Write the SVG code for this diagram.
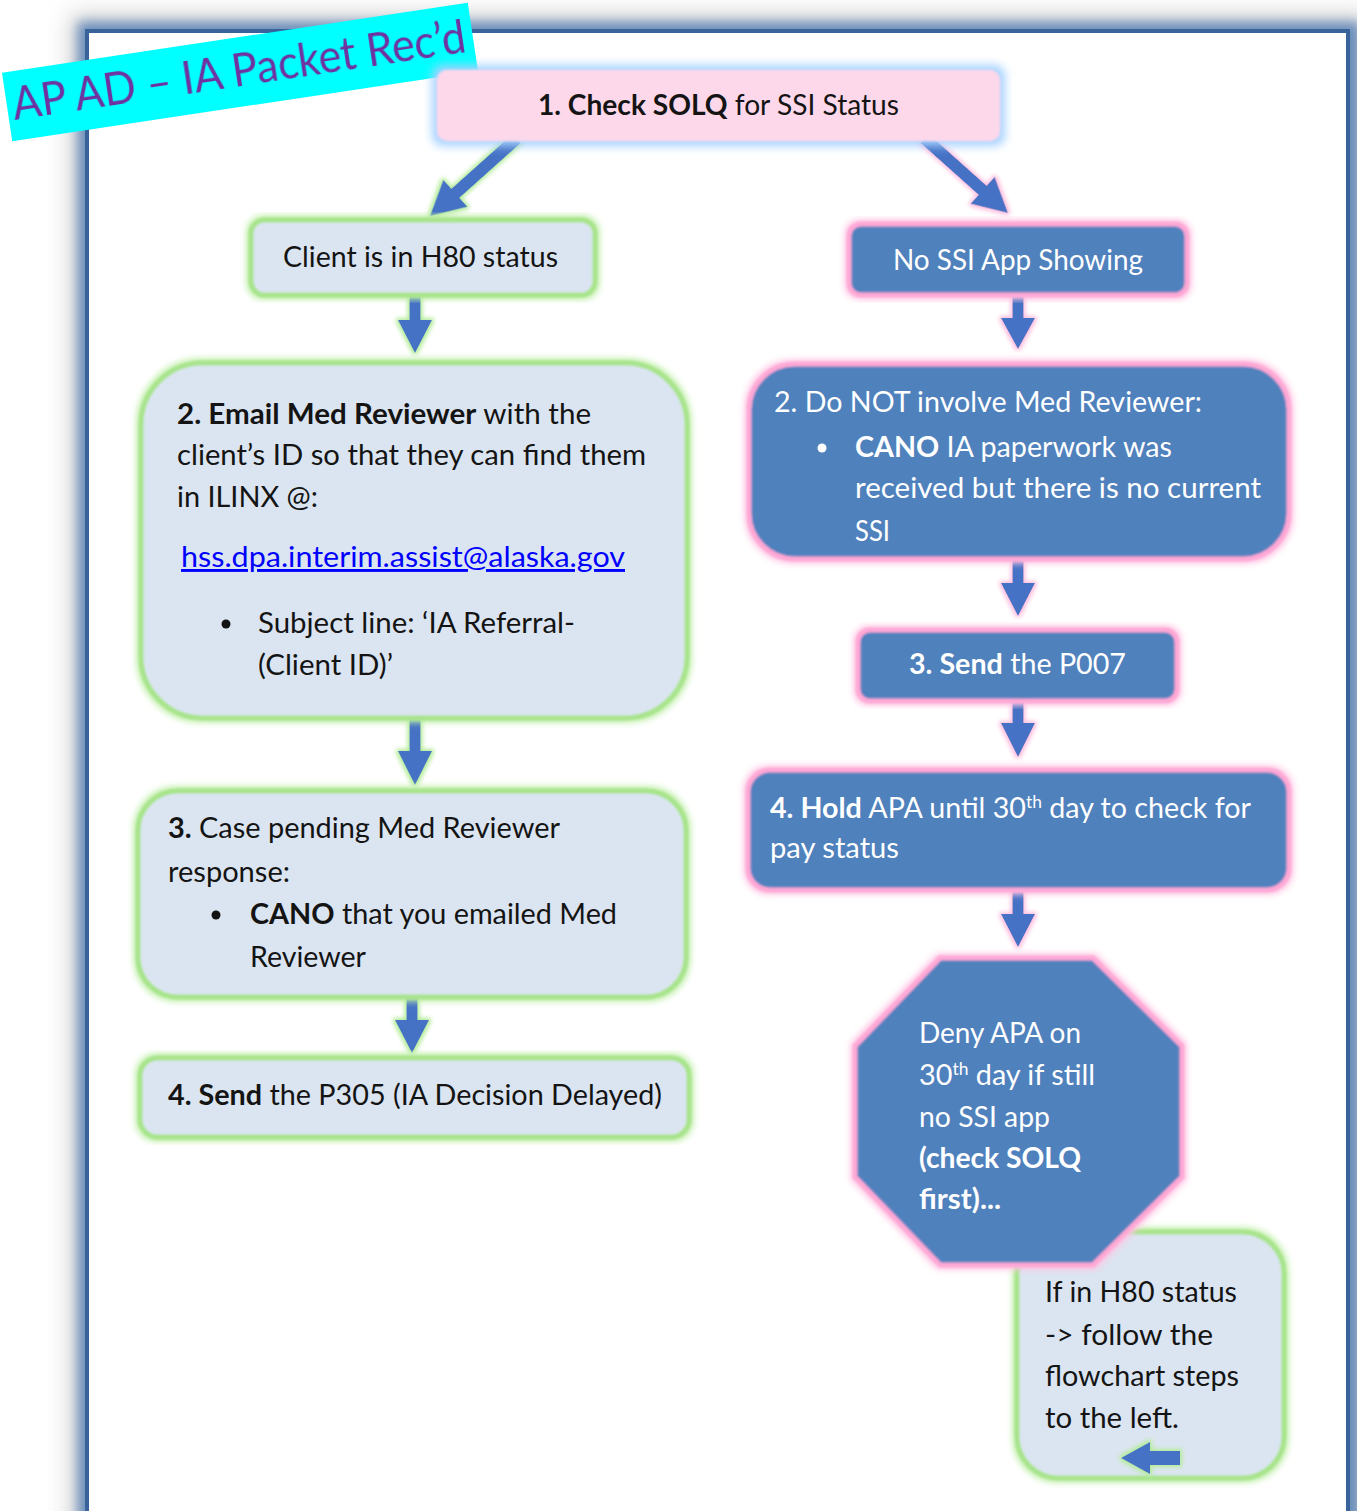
<svg xmlns="http://www.w3.org/2000/svg" width="1357" height="1511" viewBox="0 0 1357 1511">
  <style>
    .t { font-family: Lato, "Open Sans", sans-serif; font-size: 28px; fill: #141414; }
    .w { fill: #ffffff; }
    .b { font-weight: bold; }
    .sup { font-size: 17px; }
    .gbox { fill: #dbe5f1; stroke: #a8e48c; stroke-width: 5; filter: url(#haloG); }
    .pbox { fill: #4f81bd; stroke: #ffa8d6; stroke-width: 5; filter: url(#haloP); }
    .arrow { fill: #4472c4; }
    .link { font-family: Lato, "Open Sans", sans-serif; font-size: 29px; fill: #0000ff; text-decoration: underline; }
  </style>
  <defs>
    <filter id="haloG" x="-10%" y="-10%" width="120%" height="120%">
      <feMorphology in="SourceAlpha" operator="dilate" radius="2" result="d"/>
      <feGaussianBlur in="d" stdDeviation="3" result="bl"/>
      <feFlood flood-color="#bdeea5"/>
      <feComposite in2="bl" operator="in" result="h"/>
      <feGaussianBlur in="SourceGraphic" stdDeviation="0.9" result="s"/>
      <feMerge><feMergeNode in="h"/><feMergeNode in="s"/></feMerge>
    </filter>
    <filter id="haloP" x="-10%" y="-10%" width="120%" height="120%">
      <feMorphology in="SourceAlpha" operator="dilate" radius="2" result="d"/>
      <feGaussianBlur in="d" stdDeviation="3" result="bl"/>
      <feFlood flood-color="#ffc4e3"/>
      <feComposite in2="bl" operator="in" result="h"/>
      <feGaussianBlur in="SourceGraphic" stdDeviation="0.9" result="s"/>
      <feMerge><feMergeNode in="h"/><feMergeNode in="s"/></feMerge>
    </filter>
    <filter id="haloB" x="-10%" y="-30%" width="120%" height="160%">
      <feMorphology in="SourceAlpha" operator="dilate" radius="5" result="d"/>
      <feGaussianBlur in="d" stdDeviation="5" result="bl"/>
      <feFlood flood-color="#a6d2ff"/>
      <feComposite in2="bl" operator="in" result="h"/>
      <feGaussianBlur in="SourceGraphic" stdDeviation="0.8" result="s"/>
      <feMerge><feMergeNode in="h"/><feMergeNode in="s"/></feMerge>
    </filter>
    <filter id="arrG" x="-50%" y="-50%" width="200%" height="200%">
      <feMorphology in="SourceAlpha" operator="dilate" radius="2" result="d"/>
      <feGaussianBlur in="d" stdDeviation="2" result="bl"/>
      <feFlood flood-color="#b3ec98"/>
      <feComposite in2="bl" operator="in" result="h"/>
      <feGaussianBlur in="SourceGraphic" stdDeviation="0.6" result="s"/>
      <feMerge><feMergeNode in="h"/><feMergeNode in="s"/></feMerge>
    </filter>
    <filter id="arrP" x="-50%" y="-50%" width="200%" height="200%">
      <feMorphology in="SourceAlpha" operator="dilate" radius="2" result="d"/>
      <feGaussianBlur in="d" stdDeviation="2" result="bl"/>
      <feFlood flood-color="#ffc0e0"/>
      <feComposite in2="bl" operator="in" result="h"/>
      <feGaussianBlur in="SourceGraphic" stdDeviation="0.6" result="s"/>
      <feMerge><feMergeNode in="h"/><feMergeNode in="s"/></feMerge>
    </filter>
    <filter id="frameGray" x="-10%" y="-10%" width="120%" height="120%">
      <feGaussianBlur stdDeviation="12"/>
    </filter>
    <filter id="frameBlue" x="-10%" y="-10%" width="120%" height="120%">
      <feGaussianBlur stdDeviation="6"/>
    </filter>
    <filter id="soft" x="-5%" y="-5%" width="110%" height="110%">
      <feGaussianBlur stdDeviation="0.6"/>
    </filter>
  </defs>

  <rect width="1357" height="1511" fill="#ffffff"/>

  <!-- page frame with soft outer shadow -->
  <g id="frame">
    <rect x="70" y="14" width="1300" height="1540" fill="#d2d2d2" filter="url(#frameGray)"/>
    <rect x="78" y="22" width="1282" height="1520" fill="#6a8dbb" filter="url(#frameBlue)"/>
    <rect x="87" y="31" width="1261" height="1520" fill="#ffffff" stroke="#37639a" stroke-width="4"/>
  </g>

  <!-- connectors -->
  <g id="connectors">
    <!-- 1 -> left branch -->
    <path class="arrow" filter="url(#arrG)" transform="translate(430,216) rotate(48.2)" d="M -6 -116 L 6 -116 L 6 -34 L 18 -34 L 0 0 L -18 -34 L -6 -34 Z"/>
    <!-- 1 -> right branch -->
    <path class="arrow" filter="url(#arrP)" transform="translate(1008,213) rotate(-48.2)" d="M -6 -112 L 6 -112 L 6 -34 L 18 -34 L 0 0 L -18 -34 L -6 -34 Z"/>
    <!-- left column -->
    <path class="arrow" filter="url(#arrG)" d="M 409.5 294 L 420.5 294 L 420.5 320 L 432 320 L 415 353 L 398 320 L 409.5 320 Z"/>
    <path class="arrow" filter="url(#arrG)" d="M 409.5 717 L 420.5 717 L 420.5 751 L 432 751 L 415 785 L 398 751 L 409.5 751 Z"/>
    <path class="arrow" filter="url(#arrG)" d="M 406.5 996 L 417.5 996 L 417.5 1020 L 429 1020 L 412 1053 L 395 1020 L 406.5 1020 Z"/>
    <!-- right column -->
    <path class="arrow" filter="url(#arrP)" d="M 1012.5 295 L 1023.5 295 L 1023.5 318 L 1035 318 L 1018 349 L 1001 318 L 1012.5 318 Z"/>
    <path class="arrow" filter="url(#arrP)" d="M 1012.5 558 L 1023.5 558 L 1023.5 583 L 1035 583 L 1018 616 L 1001 583 L 1012.5 583 Z"/>
    <path class="arrow" filter="url(#arrP)" d="M 1012.5 701 L 1023.5 701 L 1023.5 723 L 1035 723 L 1018 757 L 1001 723 L 1012.5 723 Z"/>
    <path class="arrow" filter="url(#arrP)" d="M 1012.5 890 L 1023.5 890 L 1023.5 914 L 1035 914 L 1018 947 L 1001 914 L 1012.5 914 Z"/>
  </g>

  <!-- title banner -->
  <g id="title" transform="translate(240,72) rotate(-8.54)">
    <rect x="-235.5" y="-34.6" width="471" height="69.2" fill="#00ffff"/>
    <text x="-230" y="14" font-family="Lato, 'Open Sans', sans-serif" font-size="46" fill="#7030a0" textLength="458" lengthAdjust="spacingAndGlyphs" filter="url(#soft)">AP AD – IA Packet Rec’d</text>
  </g>

  <!-- step 1 -->
  <g id="n-check-solq">
    <rect x="437" y="70" width="563" height="71" rx="10" fill="#fdd8ea" filter="url(#haloB)"/>
    <text class="t" x="538" y="115" textLength="361" lengthAdjust="spacingAndGlyphs"><tspan class="b">1. Check SOLQ</tspan> for SSI  Status</text>
  </g>

  <!-- left branch -->
  <g id="n-h80">
    <rect class="gbox" x="251" y="220" width="344" height="75" rx="14"/>
    <text class="t" x="283" y="267" textLength="275" lengthAdjust="spacingAndGlyphs">Client  is  in  H80 status</text>
  </g>

  <g id="n-email-med">
    <rect class="gbox" x="141" y="363" width="546" height="355" rx="62"/>
    <text class="t" x="177" y="424" textLength="414" lengthAdjust="spacingAndGlyphs"><tspan class="b">2. Email Med Reviewer</tspan> with the</text>
    <text class="t" x="177" y="465" textLength="469" lengthAdjust="spacingAndGlyphs">client’s ID so that they can find  them</text>
    <text class="t" x="177" y="507" textLength="141" lengthAdjust="spacingAndGlyphs">in ILINX @:</text>
    <text class="link" x="181" y="567" textLength="444" lengthAdjust="spacingAndGlyphs">hss.dpa.interim.assist@alaska.gov</text>
    <circle cx="226" cy="624" r="4.5" fill="#141414"/>
    <text class="t" x="258" y="633" textLength="317" lengthAdjust="spacingAndGlyphs">Subject  line:  ‘IA Referral-</text>
    <text class="t" x="258" y="675" textLength="135" lengthAdjust="spacingAndGlyphs">(Client  ID)’</text>
  </g>

  <g id="n-case-pending">
    <rect class="gbox" x="138" y="791" width="548" height="206" rx="40"/>
    <text class="t" x="168" y="838" textLength="392" lengthAdjust="spacingAndGlyphs"><tspan class="b">3.</tspan> Case  pending  Med Reviewer</text>
    <text class="t" x="168" y="882" textLength="122" lengthAdjust="spacingAndGlyphs">response:</text>
    <circle cx="216" cy="915" r="4.5" fill="#141414"/>
    <text class="t" x="250" y="924" textLength="367" lengthAdjust="spacingAndGlyphs"><tspan class="b">CANO</tspan>  that you emailed Med</text>
    <text class="t" x="250" y="967" textLength="116" lengthAdjust="spacingAndGlyphs">Reviewer</text>
  </g>

  <g id="n-send-p305">
    <rect class="gbox" x="140" y="1058" width="549" height="79" rx="18"/>
    <text class="t" x="168" y="1105" textLength="494" lengthAdjust="spacingAndGlyphs"><tspan class="b">4. Send</tspan> the P305 (IA Decision Delayed)</text>
  </g>

  <!-- right branch -->
  <g id="n-no-ssi">
    <rect class="pbox" x="849" y="224" width="338" height="71" rx="12"/>
    <text class="t w" x="893" y="270" textLength="250" lengthAdjust="spacingAndGlyphs">No SSI App Showing</text>
  </g>

  <g id="n-no-med">
    <rect class="pbox" x="749" y="364" width="540" height="195" rx="46"/>
    <text class="t w" x="774" y="412" textLength="428" lengthAdjust="spacingAndGlyphs">2. Do NOT involve  Med Reviewer:</text>
    <circle cx="822" cy="448" r="4.5" fill="#ffffff"/>
    <text class="t w" x="855" y="457" textLength="317" lengthAdjust="spacingAndGlyphs"><tspan class="b">CANO</tspan>  IA paperwork was</text>
    <text class="t w" x="855" y="498" textLength="406" lengthAdjust="spacingAndGlyphs">received but  there is no current</text>
    <text class="t w" x="855" y="541" textLength="35" lengthAdjust="spacingAndGlyphs">SSI</text>
  </g>

  <g id="n-send-p007">
    <rect class="pbox" x="858" y="630" width="319" height="71" rx="12"/>
    <text class="t w" x="909" y="674" textLength="217" lengthAdjust="spacingAndGlyphs"><tspan class="b">3. Send</tspan> the P007</text>
  </g>

  <g id="n-hold-apa">
    <rect class="pbox" x="748" y="770" width="541" height="120" rx="22"/>
    <text class="t w" x="770" y="818" textLength="481" lengthAdjust="spacingAndGlyphs"><tspan class="b">4. Hold</tspan> APA  until  30<tspan class="sup" dy="-10">th</tspan><tspan dy="10"> day to check for</tspan></text>
    <text class="t w" x="770" y="858" textLength="129" lengthAdjust="spacingAndGlyphs">pay status</text>
  </g>

  <!-- note box (drawn under the octagon) -->
  <g id="n-h80-note">
    <rect class="gbox" x="1017" y="1232" width="267" height="246" rx="42"/>
    <text class="t" x="1045" y="1302" textLength="192" lengthAdjust="spacingAndGlyphs">If in H80 status</text>
    <text class="t" x="1045" y="1345" textLength="168" lengthAdjust="spacingAndGlyphs">-&gt;  follow the</text>
    <text class="t" x="1045" y="1386" textLength="194" lengthAdjust="spacingAndGlyphs">flowchart steps</text>
    <text class="t" x="1045" y="1428" textLength="134" lengthAdjust="spacingAndGlyphs">to the left.</text>
    <path class="arrow" filter="url(#arrG)" d="M 1121 1458 L 1150 1442 L 1150 1451 L 1180 1451 L 1180 1465 L 1150 1465 L 1150 1474 Z"/>
  </g>

  <g id="n-deny-apa">
    <polygon class="pbox" points="940,958 1093,958 1182,1046 1182,1177 1093,1265 940,1265 855,1177 855,1046"/>
    <text class="t w" x="919" y="1043" textLength="162" lengthAdjust="spacingAndGlyphs">Deny APA on</text>
    <text class="t w" x="919" y="1085" textLength="176" lengthAdjust="spacingAndGlyphs">30<tspan class="sup" dy="-10">th</tspan><tspan dy="10"> day if still</tspan></text>
    <text class="t w" x="919" y="1127" textLength="131" lengthAdjust="spacingAndGlyphs">no SSI app</text>
    <text class="t w b" x="919" y="1168" textLength="162" lengthAdjust="spacingAndGlyphs">(check SOLQ</text>
    <text class="t w b" x="919" y="1209" textLength="82" lengthAdjust="spacingAndGlyphs">first)...</text>
  </g>
</svg>
